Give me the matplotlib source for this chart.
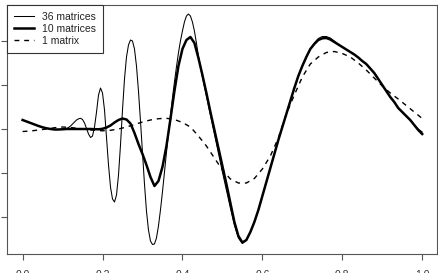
# BIBLIOTECAS

import numpy as np
import matplotlib
matplotlib.use("Agg")
import matplotlib.pyplot as plt

plt.rcParams["font.family"] = ["Liberation Sans", "DejaVu Sans"]

# DADOS

# 10 matrices: x de 0 a 1, passo 0.01
x_10 = np.linspace(0, 1, 101)
y_10 = [
    9, 7.5, 6, 4.5, 3, 1.7, 0.7, 0, -0.5, -0.5, -0.3,
    0, 0, 0, 0, 0, 0, 0, -0.2, -0.3,
    0.2, 1.5, 3.5, 6.5, 9, 10.5, 9.5, 5.5, -4, -15,
    -25, -36, -48, -57, -52, -38, -17, 10, 38, 63,
    80, 89, 92, 86, 71, 54, 36, 17, -1, -19,
    -37, -55, -74, -93, -107, -113.5, -111,
    -103, -93, -81, -67, -53, -39, -25, -11, 2, 15,
    28, 41, 53, 63, 72, 80, 85, 89, 90.7, 91,
    89.5, 87, 84.5, 82, 79.5, 77, 74.5, 71.5, 68, 65,
    60.5, 56, 50, 44, 38, 32, 27, 21, 17, 13,
    9, 4, -1, -5,
]

# 36 matrices: amostragem mais fina na zona de oscilação
x_36 = np.concatenate([
    np.linspace(0.0, 0.10, 11),
    np.linspace(0.105, 0.45, 70),
    np.linspace(0.46, 0.56, 11),
    np.linspace(0.57, 1.0, 44),
])
y_36 = [
    9, 7.5, 6, 4.5, 3, 1.7, 0.7, 0, -0.5, -0.5, 0,
    0, 0.5, 1.5, 3, 5, 7, 9, 10.2, 10.7, 9.5,
    6, 0.5, -5, -8.5, -7, 2, 17, 34, 41, 36,
    19, -8, -36, -58, -70, -73, -66, -46, -16, 19,
    50, 72, 84, 89, 88, 80, 63, 38, 8, -24,
    -55, -82, -101, -112, -115.5, -115, -109, -97, -81, -63,
    -43, -23, -4, 14, 31, 47, 62, 76, 88, 98,
    107, 113, 115, 113, 107, 98, 86, 73, 62, 52,
    33, 14, -5, -24, -43, -61, -79, -96, -109, -114.5, -111,
    -103, -93, -81, -67, -53, -39, -25, -11, 2, 15,
    28, 41, 53, 63, 72, 80, 86, 90.5, 92.5, 92.5,
    91, 88, 84.5, 82, 79.5, 77, 74.5, 71.5, 68, 65,
    60.5, 56, 50, 44, 38, 32, 27, 21, 17, 13,
    9, 4, 0, -3,
]

# 1 matrix: x de 0 a 1, passo 0.02
x_1 = np.linspace(0, 1, 51)
y_1 = [
    -2.5, -2, -1, 0, 1.3, 2, 1.5, 0.5, -0.5, -1.3,
    -1.8, -1.3, 0, 2, 4.5, 7, 9, 10.3, 10.7, 9.5,
    6.5, 2, -7, -17, -29, -41, -50, -54, -54, -49.5,
    -40, -27, -9, 15, 34, 52, 65, 72, 76.5, 77.5,
    75.5, 72, 66, 59, 51, 43, 36, 30, 23.5, 17,
    10.5,
]

rotulos = ["36 matrices", "10 matrices", "1 matrix"]

x_ticks = [0.0, 0.2, 0.4, 0.6, 0.8, 1.0]
x_tick_labels = ["0.0", "0.2", "0.4", "0.6", "0.8", "1.0"]
y_ticks = [-88, -44, 0, 44, 88]

# GRÁFICO

fig = plt.figure(figsize=(4.39, 2.73), dpi=100)
ax = fig.add_axes([7 / 439, 19 / 273, 430 / 439, 249 / 273])

ax.plot(x_36, y_36, color="black", lw=0.75, label=rotulos[0])
ax.plot(x_10, y_10, color="black", lw=1.8, label=rotulos[1])
ax.plot(x_1, y_1, color="black", lw=1.0, dashes=(3.5, 3.5), label=rotulos[2])

ax.set_xlim(-0.039, 1.037)
ax.set_ylim(-125, 124)

ax.set_xticks(x_ticks)
ax.set_xticklabels(x_tick_labels, fontsize=7.5)
ax.set_yticks(y_ticks)
ax.set_yticklabels([])

ax.tick_params(axis="both", length=4.5, width=0.8, color="#555555", pad=7)
ax.tick_params(axis="x", labelcolor="#333333")

for lado in ax.spines.values():
    lado.set_color("#555555")
    lado.set_linewidth(0.8)

leg = ax.legend(
    loc="upper left",
    bbox_to_anchor=(0, 1),
    borderaxespad=0,
    fontsize=7.5,
    fancybox=False,
    framealpha=1,
    handlelength=1.9,
    handletextpad=0.8,
    labelspacing=0.2,
    borderpad=0.65,
)
leg.get_frame().set_edgecolor("#333333")
leg.get_frame().set_linewidth(0.8)
for t in leg.get_texts():
    t.set_color("#222222")

fig.savefig("out.png", dpi=100)
